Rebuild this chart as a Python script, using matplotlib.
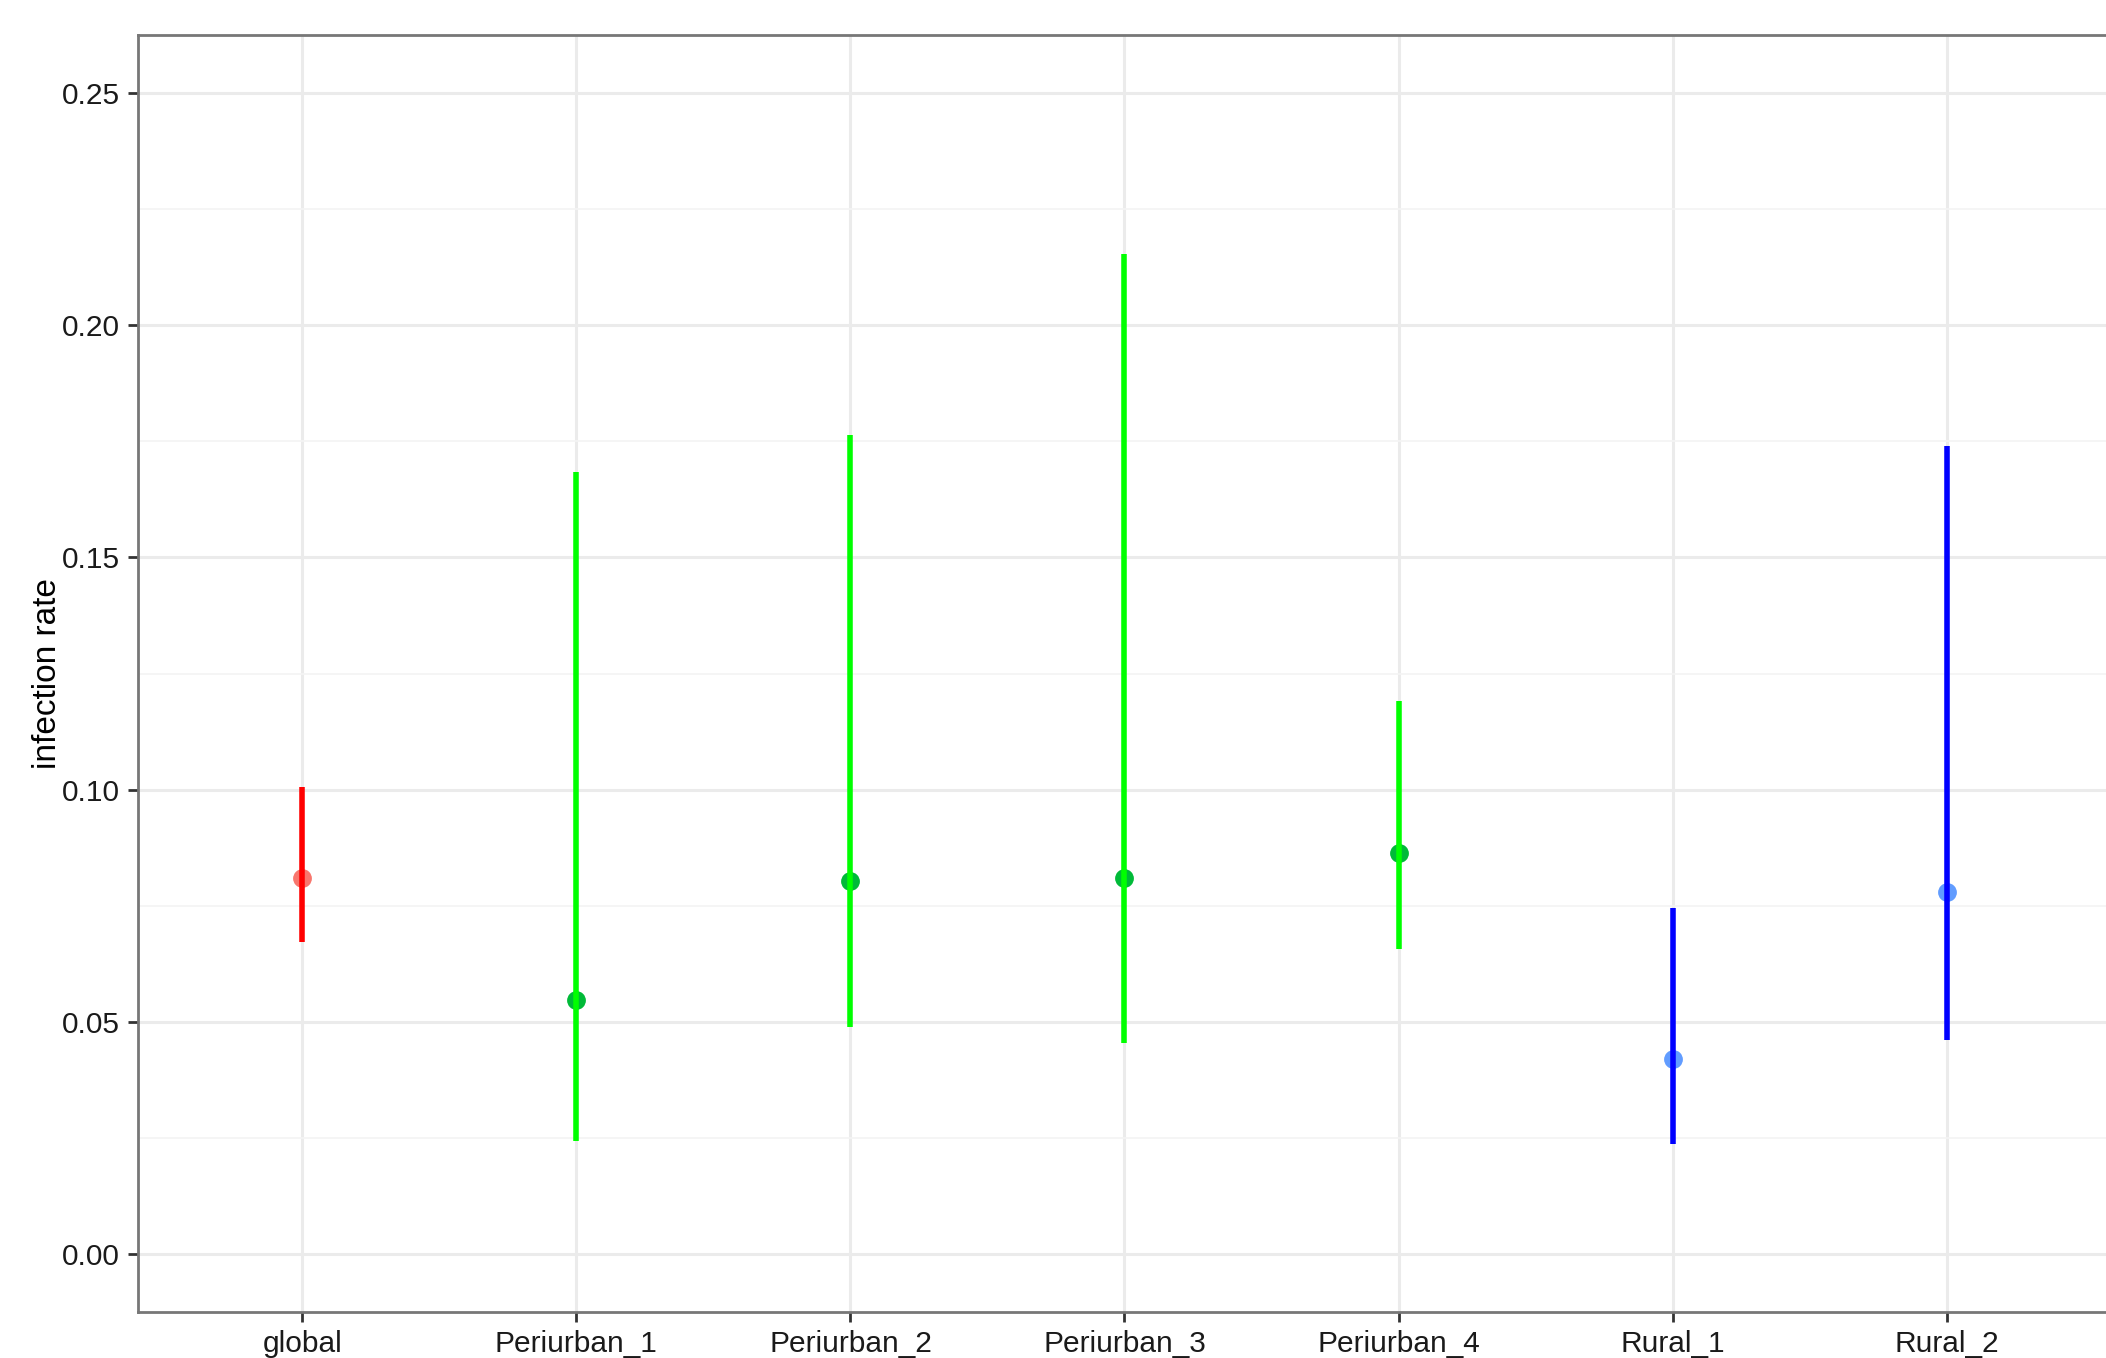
import numpy as np
import matplotlib.pyplot as plt

# data
sites = ['global', 'Periurban_1', 'Periurban_2', 'Periurban_3', 'Periurban_4', 'Rural_1', 'Rural_2']
rate = [0.0809, 0.0546, 0.0803, 0.0809, 0.0864, 0.0419, 0.0780]
lower = [0.0671, 0.0243, 0.0488, 0.0454, 0.0656, 0.0237, 0.0460]
upper = [0.1006, 0.1685, 0.1763, 0.2153, 0.1191, 0.0746, 0.1740]
group = ['global', 'peri', 'peri', 'peri', 'peri', 'rural', 'rural']

line_col = {'global': '#FF0000', 'peri': '#00FF00', 'rural': '#0000FF'}
pt_col = {'global': '#F8766D', 'peri': '#00BA38', 'rural': '#619CFF'}

plt.rcParams['font.family'] = ['Liberation Sans', 'DejaVu Sans']

fig = plt.figure(figsize=(21.06, 13.58), dpi=100)
ax = fig.add_axes([0.0655, 0.0339, 0.9369, 0.9403])

x = np.arange(1, len(sites) + 1)
for i in range(len(sites)):
    ax.plot(x[i], rate[i], 'o', color=pt_col[group[i]], markersize=12.5, zorder=3)
    ax.plot([x[i], x[i]], [lower[i], upper[i]], color=line_col[group[i]], lw=4,
            solid_capstyle='butt', zorder=4)

ax.set_xlim(0.4, 7.6)
ax.set_ylim(-0.0125, 0.2625)
ax.set_xticks(x)
ax.set_xticklabels(sites)
ax.set_yticks([0, 0.05, 0.10, 0.15, 0.20, 0.25])
ax.set_yticklabels(['0.00', '0.05', '0.10', '0.15', '0.20', '0.25'])
ax.set_yticks(np.arange(0.025, 0.26, 0.05), minor=True)

ax.grid(True, which='major', color='#EBEBEB', lw=2.2, zorder=0)
ax.grid(True, which='minor', axis='y', color='#F4F4F4', lw=1.2, zorder=0)
ax.set_axisbelow(True)

ax.tick_params(axis='both', which='major', length=7, width=2, color='#333333',
               labelsize=21.5, labelcolor='#1a1a1a', pad=6)
ax.tick_params(axis='y', which='minor', length=0)
for s in ax.spines.values():
    s.set_color('#777777')
    s.set_linewidth(2)

ax.set_ylabel('infection rate', fontsize=24, labelpad=-1)

fig.savefig('out.png', dpi=100)
